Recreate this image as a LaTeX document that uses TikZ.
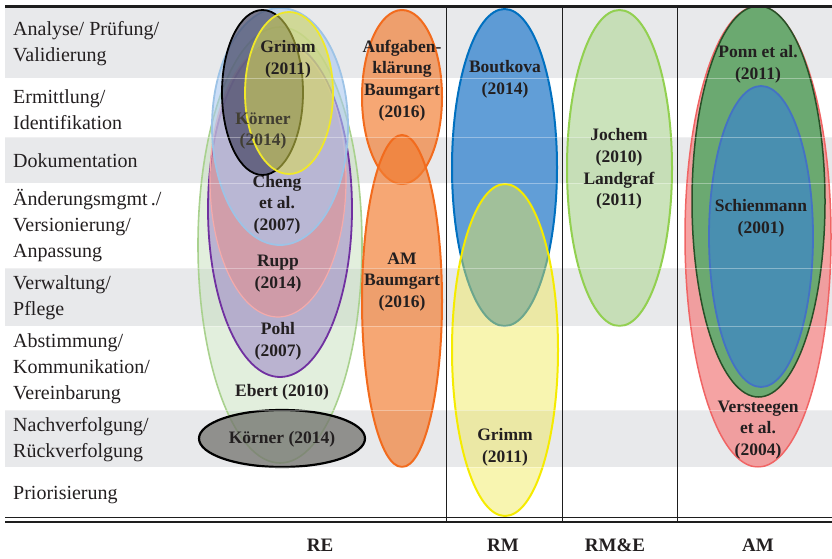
\documentclass[tikz,border=0pt]{standalone}
\usepackage{fontspec}
\setmainfont{Liberation Serif}
\definecolor{bandgray}{RGB}{232,233,235}
\definecolor{inktext}{RGB}{35,31,32}
\definecolor{rulecol}{RGB}{30,30,30}
% RE cluster
\definecolor{ebertfill}{RGB}{190,220,180}
\definecolor{ebertline}{RGB}{169,209,142}
\definecolor{pohlfill}{RGB}{160,140,200}
\definecolor{pohlline}{RGB}{112,48,160}
\definecolor{ruppfill}{RGB}{230,140,140}
\definecolor{ruppline}{RGB}{244,170,170}
\definecolor{chengfill}{RGB}{170,200,240}
\definecolor{chengline}{RGB}{157,195,230}
\definecolor{koernerfill}{RGB}{60,60,90}
\definecolor{grimmfill}{RGB}{220,220,80}
\definecolor{grimmline}{RGB}{240,232,40}
\definecolor{koernerlow}{RGB}{115,115,110}
\definecolor{koernertext}{RGB}{65,62,50}
% orange pair
\definecolor{orangefill}{RGB}{242,125,50}
\definecolor{orangeline}{RGB}{242,107,29}
% RM, RM&E
\definecolor{boutfill}{RGB}{75,145,210}
\definecolor{boutline}{RGB}{0,112,192}
\definecolor{yellowfill}{RGB}{240,232,80}
\definecolor{yellowline}{RGB}{245,235,0}
\definecolor{jochfill}{RGB}{190,220,170}
\definecolor{jochline}{RGB}{146,208,80}
% AM
\definecolor{versfill}{RGB}{242,140,140}
\definecolor{versline}{RGB}{240,100,100}
\definecolor{ponnfill}{RGB}{100,170,110}
\definecolor{ponnline}{RGB}{40,80,40}
\definecolor{schifill}{RGB}{72,142,180}
\definecolor{schiline}{RGB}{68,114,196}
\begin{document}
\begin{tikzpicture}[x=1pt,y=-1pt,
  band/.style={fill=bandgray,draw=none},
  rowlbl/.style={font=\fontsize{20}{26}\selectfont,align=left,anchor=west,inner sep=0pt,text=inktext},
  lbl/.style={font=\bfseries\fontsize{17.5}{21.7}\selectfont,align=center,inner sep=0pt,text=inktext},
  collbl/.style={font=\bfseries\fontsize{19}{22}\selectfont,inner sep=0pt,text=inktext},
  blob/.style={line width=1.6pt},
  sep/.style={draw=white,opacity=0.35,line width=0.8pt},
  vline/.style={draw=rulecol,line width=0.8pt}]
\useasboundingbox (0,0) rectangle (832,559);

% shaded rows of the table
\fill[band] (5,8) rectangle (832,78);
\fill[band] (5,137) rectangle (832,183);
\fill[band] (5,268) rectangle (832,326);
\fill[band] (5,410) rectangle (832,467);

% row labels
\node[rowlbl] (r1) at (13,43.5) {Analyse/ Prüfung/\\Validierung};
\node[rowlbl] (r2) at (13,109.5) {Ermittlung/\\Identifikation};
\node[rowlbl] (r3) at (13,161) {Dokumentation};
\node[rowlbl] (r4) at (13,226) {Änderungsmgmt\,./\\Versionierung/\\Anpassung};
\node[rowlbl] (r5) at (13,297.5) {Verwaltung/\\Pflege};
\node[rowlbl] (r6) at (13,368.5) {Abstimmung/\\Kommunikation/\\Vereinbarung};
\node[rowlbl] (r7) at (13,440) {Nachverfolgung/\\Rückverfolgung};
\node[rowlbl] (r8) at (13,495) {Priorisierung};

% RE cluster
\path[blob,draw=ebertline,fill=ebertfill,fill opacity=0.45] (280,245) ellipse [x radius=82pt,y radius=218pt];
\path[blob,draw=pohlline,line width=1.8pt,fill=pohlfill,fill opacity=0.6] (280,209) ellipse [x radius=72pt,y radius=168pt];
\path[blob,draw=ruppline,line width=1.2pt,fill=ruppfill,fill opacity=0.55] (278,180) ellipse [x radius=68pt,y radius=137pt];
\path[blob,draw=chengline,line width=1.8pt,fill=chengfill,fill opacity=0.6] (280,126.5) ellipse [x radius=68pt,y radius=118.5pt];
\path[blob,draw=black,line width=1.8pt,fill=koernerfill,fill opacity=0.65] (262.5,92.5) ellipse [x radius=40.5pt,y radius=82.5pt];
\path[blob,draw=grimmline,line width=1.8pt,fill=grimmfill,fill opacity=0.55] (289,93) ellipse [x radius=44pt,y radius=81pt];
\path[blob,draw=black,line width=2.2pt,fill=koernerlow,fill opacity=0.75] (282,438.5) ellipse [x radius=83pt,y radius=28.5pt];

% orange pair
\path[blob,draw=orangeline,line width=2pt,fill=orangefill,fill opacity=0.68] (402,97) ellipse [x radius=40pt,y radius=87pt];
\path[blob,draw=orangeline,line width=2pt,fill=orangefill,fill opacity=0.68] (402,301) ellipse [x radius=40pt,y radius=166pt];

% RM
\path[blob,draw=boutline,line width=2pt,fill=boutfill,fill opacity=0.88] (504.5,167.5) ellipse [x radius=52.5pt,y radius=158.5pt];
\path[blob,draw=yellowline,line width=2pt,fill=yellowfill,fill opacity=0.45] (505,350) ellipse [x radius=53pt,y radius=166pt];

% RM&E
\path[blob,draw=jochline,line width=2pt,fill=jochfill,fill opacity=0.8] (619.5,168) ellipse [x radius=52.5pt,y radius=158pt];

% AM
\path[blob,draw=versline,line width=1.5pt,fill=versfill,fill opacity=0.8] (758,236.5) ellipse [x radius=73pt,y radius=230.5pt];
\path[blob,draw=ponnline,line width=1.5pt,fill=ponnfill,fill opacity=0.95] (758.5,201.5) ellipse [x radius=66.5pt,y radius=195.5pt];
\path[blob,draw=schiline,line width=1.8pt,fill=schifill,fill opacity=0.95] (761,236.5) ellipse [x radius=52pt,y radius=150.5pt];

% faint row borders over the shapes
\foreach \yy in {78,137,183,268,326,410,467}
  \draw[sep] (5,\yy) -- (832,\yy);

% ellipse labels
\node[lbl] (grimmA) at (288,59) {Grimm\\(2011)};
\node[lbl,text=koernertext] (koernerA) at (263,131) {Körner\\(2014)};
\node[lbl] (cheng) at (277,204.5) {Cheng\\et al.\\(2007)};
\node[lbl] (rupp) at (278,273.5) {Rupp\\(2014)};
\node[lbl] (pohl) at (278,341) {Pohl\\(2007)};
\node[lbl] (ebert) at (282,392) {Ebert (2010)};
\node[lbl] (koernerB) at (282,439) {Körner (2014)};
\node[lbl] (aufg) at (402,80.5) {Aufgaben-\\klärung\\Baumgart\\(2016)};
\node[lbl] (amb) at (402,282) {AM\\Baumgart\\(2016)};
\node[lbl] (bout) at (505,79) {Boutkova\\(2014)};
\node[lbl] (grimmB) at (505,447) {Grimm\\(2011)};
\node[lbl] (joch) at (619,169) {Jochem\\(2010)\\Landgraf\\(2011)};
\node[lbl] (ponn) at (758,64) {Ponn et al.\\(2011)};
\node[lbl] (schi) at (761,218) {Schienmann\\(2001)};
\node[lbl] (vers) at (758,430) {Versteegen\\et al.\\(2004)};

% rules
\draw[vline] (446.5,8) -- (446.5,522.5);
\draw[vline] (562,8) -- (562,522.5);
\draw[vline] (677,8) -- (677,522.5);
\draw[draw=rulecol,line width=3pt] (5,6.7) -- (832,6.7);
\draw[draw=rulecol,line width=1pt] (5,517.8) -- (832,517.8);
\draw[draw=rulecol,line width=2pt] (5,521.5) -- (832,521.5);

% column labels
\node[collbl] (cRE) at (320,545) {RE};
\node[collbl] (cRM) at (503,545) {RM};
\node[collbl] (cRME) at (615,545) {RM\&E};
\node[collbl] (cAM) at (758,545) {AM};
\end{tikzpicture}
\end{document}
